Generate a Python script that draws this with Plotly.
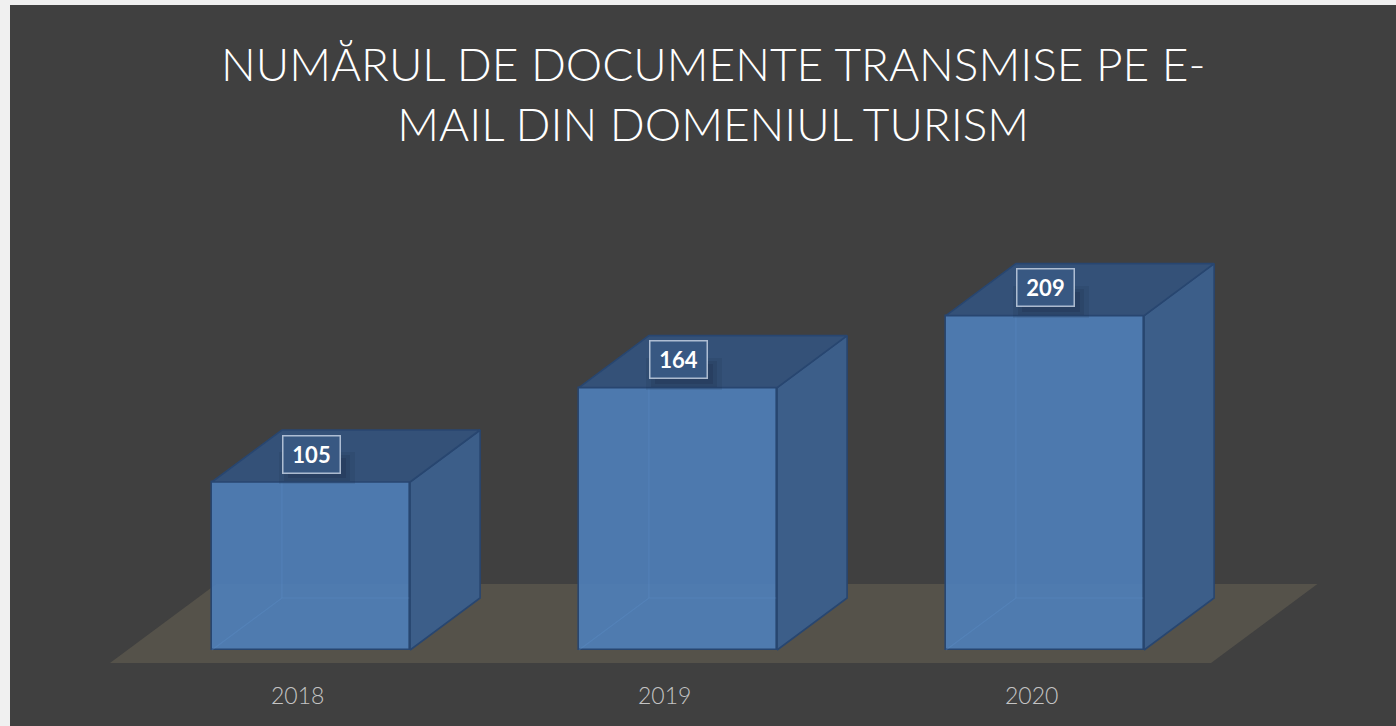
import plotly.graph_objects as go

# ---- data ----
categories = ["2018", "2019", "2020"]
values = [105, 164, 209]
title_lines = ["NUMĂRUL DE DOCUMENTE TRANSMISE PE E-", "MAIL DIN DOMENIUL TURISM"]

# ---- style / geometry (in axis units) ----
BAR_W = 0.54          # front face width, category units
DX = 0.1907           # depth offset in x (category units)
DY = 32.5             # depth offset in y (value units)
FLOOR_FRONT = -0.25   # floor front edge, depth fraction
FLOOR_BACK = 1.27     # floor back edge, depth fraction

BG = "#404040"
FLOOR = "#55524a"
FRONT = "rgba(79,129,189,0.88)"
SIDE = "rgb(60,94,137)"
TOP = "rgb(52,81,120)"
EDGE = "rgb(40,70,112)"
HIDDEN = "rgba(100,150,210,0.25)"

FIG_W, FIG_H = 1386, 721

xs = list(range(len(categories)))

fig = go.Figure()

# front faces (bars)
fig.add_trace(go.Bar(
    x=xs, y=values, width=BAR_W,
    marker=dict(color=FRONT, line=dict(color=EDGE, width=1.6)),
    hoverinfo="skip", showlegend=False,
))

for i, v in zip(xs, values):
    xl, xr = i - BAR_W / 2, i + BAR_W / 2
    # hidden back edges (seen through the translucent front)
    fig.add_trace(go.Scatter(
        x=[xl, xl + DX, xr + DX, None, xl + DX, xl + DX],
        y=[0, DY, DY, None, DY, v + DY],
        mode="lines", line=dict(color=HIDDEN, width=1.2),
        hoverinfo="skip", showlegend=False,
    ))
    # side face
    fig.add_trace(go.Scatter(
        x=[xr, xr + DX, xr + DX, xr, xr],
        y=[0, DY, v + DY, v, 0],
        mode="lines", fill="toself", fillcolor=SIDE,
        line=dict(color=EDGE, width=1.6),
        hoverinfo="skip", showlegend=False,
    ))
    # top face
    fig.add_trace(go.Scatter(
        x=[xl, xr, xr + DX, xl + DX, xl],
        y=[v, v, v + DY, v + DY, v],
        mode="lines", fill="toself", fillcolor=TOP,
        line=dict(color=EDGE, width=1.6),
        hoverinfo="skip", showlegend=False,
    ))
    # soft shadow under the data label
    for k, (w, h, a) in enumerate([(74, 30, 0.10), (64, 24, 0.14), (56, 18, 0.18)]):
        fig.add_annotation(
            x=i, y=v, xref="x", yref="y", yshift=14, xshift=6,
            text="", showarrow=False, width=w, height=h,
            bgcolor=f"rgba(20,35,60,{a})", borderwidth=0,
        )
    # data label
    fig.add_annotation(
        x=i, y=v, xref="x", yref="y", yshift=28,
        text=f"<b>{v}</b>", showarrow=False, width=54, height=34,
        font=dict(family="Lato, Open Sans, sans-serif", size=22, color="white"),
        bgcolor="rgb(56,88,130)", bordercolor="rgba(215,225,240,0.75)",
        borderwidth=1.5, borderpad=1,
    )
    # category label
    fig.add_annotation(
        x=i, y=0, xref="x", yref="y", yshift=-45, xshift=-14,
        text=categories[i], showarrow=False,
        font=dict(family="Lato, Open Sans, sans-serif", size=23, color="#c4c4c4", weight=300),
    )

# floor
n = len(categories)
fx = [-0.5 + FLOOR_FRONT * DX, n - 0.5 + FLOOR_FRONT * DX,
      n - 0.5 + FLOOR_BACK * DX, -0.5 + FLOOR_BACK * DX]
fy = [FLOOR_FRONT * DY, FLOOR_FRONT * DY, FLOOR_BACK * DY, FLOOR_BACK * DY]
path = "M " + " L ".join(f"{a},{b}" for a, b in zip(fx, fy)) + " Z"
fig.add_shape(type="path", path=path, xref="x", yref="y",
              fillcolor=FLOOR, line=dict(width=0), layer="below")

# title
fig.add_annotation(
    x=703 / FIG_W, y=1 - 88.5 / FIG_H, xref="paper", yref="paper",
    text="<br>".join(title_lines), showarrow=False, yanchor="middle",
    font=dict(family="Century Gothic, Lato, sans-serif", size=46, color="white", weight=300),
)

# axis ranges so that 1 category = 367 px and 1 value unit = 1.6 px
fig.update_layout(
    width=FIG_W, height=FIG_H,
    margin=dict(l=0, r=0, t=0, b=0),
    paper_bgcolor=BG, plot_bgcolor=BG,
    xaxis=dict(range=[-301 / 367, (FIG_W - 301) / 367], visible=False, fixedrange=True),
    yaxis=dict(range=[(645 - FIG_H) / 1.6, 645 / 1.6], visible=False, fixedrange=True),
    bargap=0, showlegend=False,
)

fig.write_html(
    "out.html",
    post_script="document.body.style.margin='5px 0 0 10px';"
                "document.body.style.overflow='hidden';"
                "document.body.style.background='#f0f0f0';",
)
